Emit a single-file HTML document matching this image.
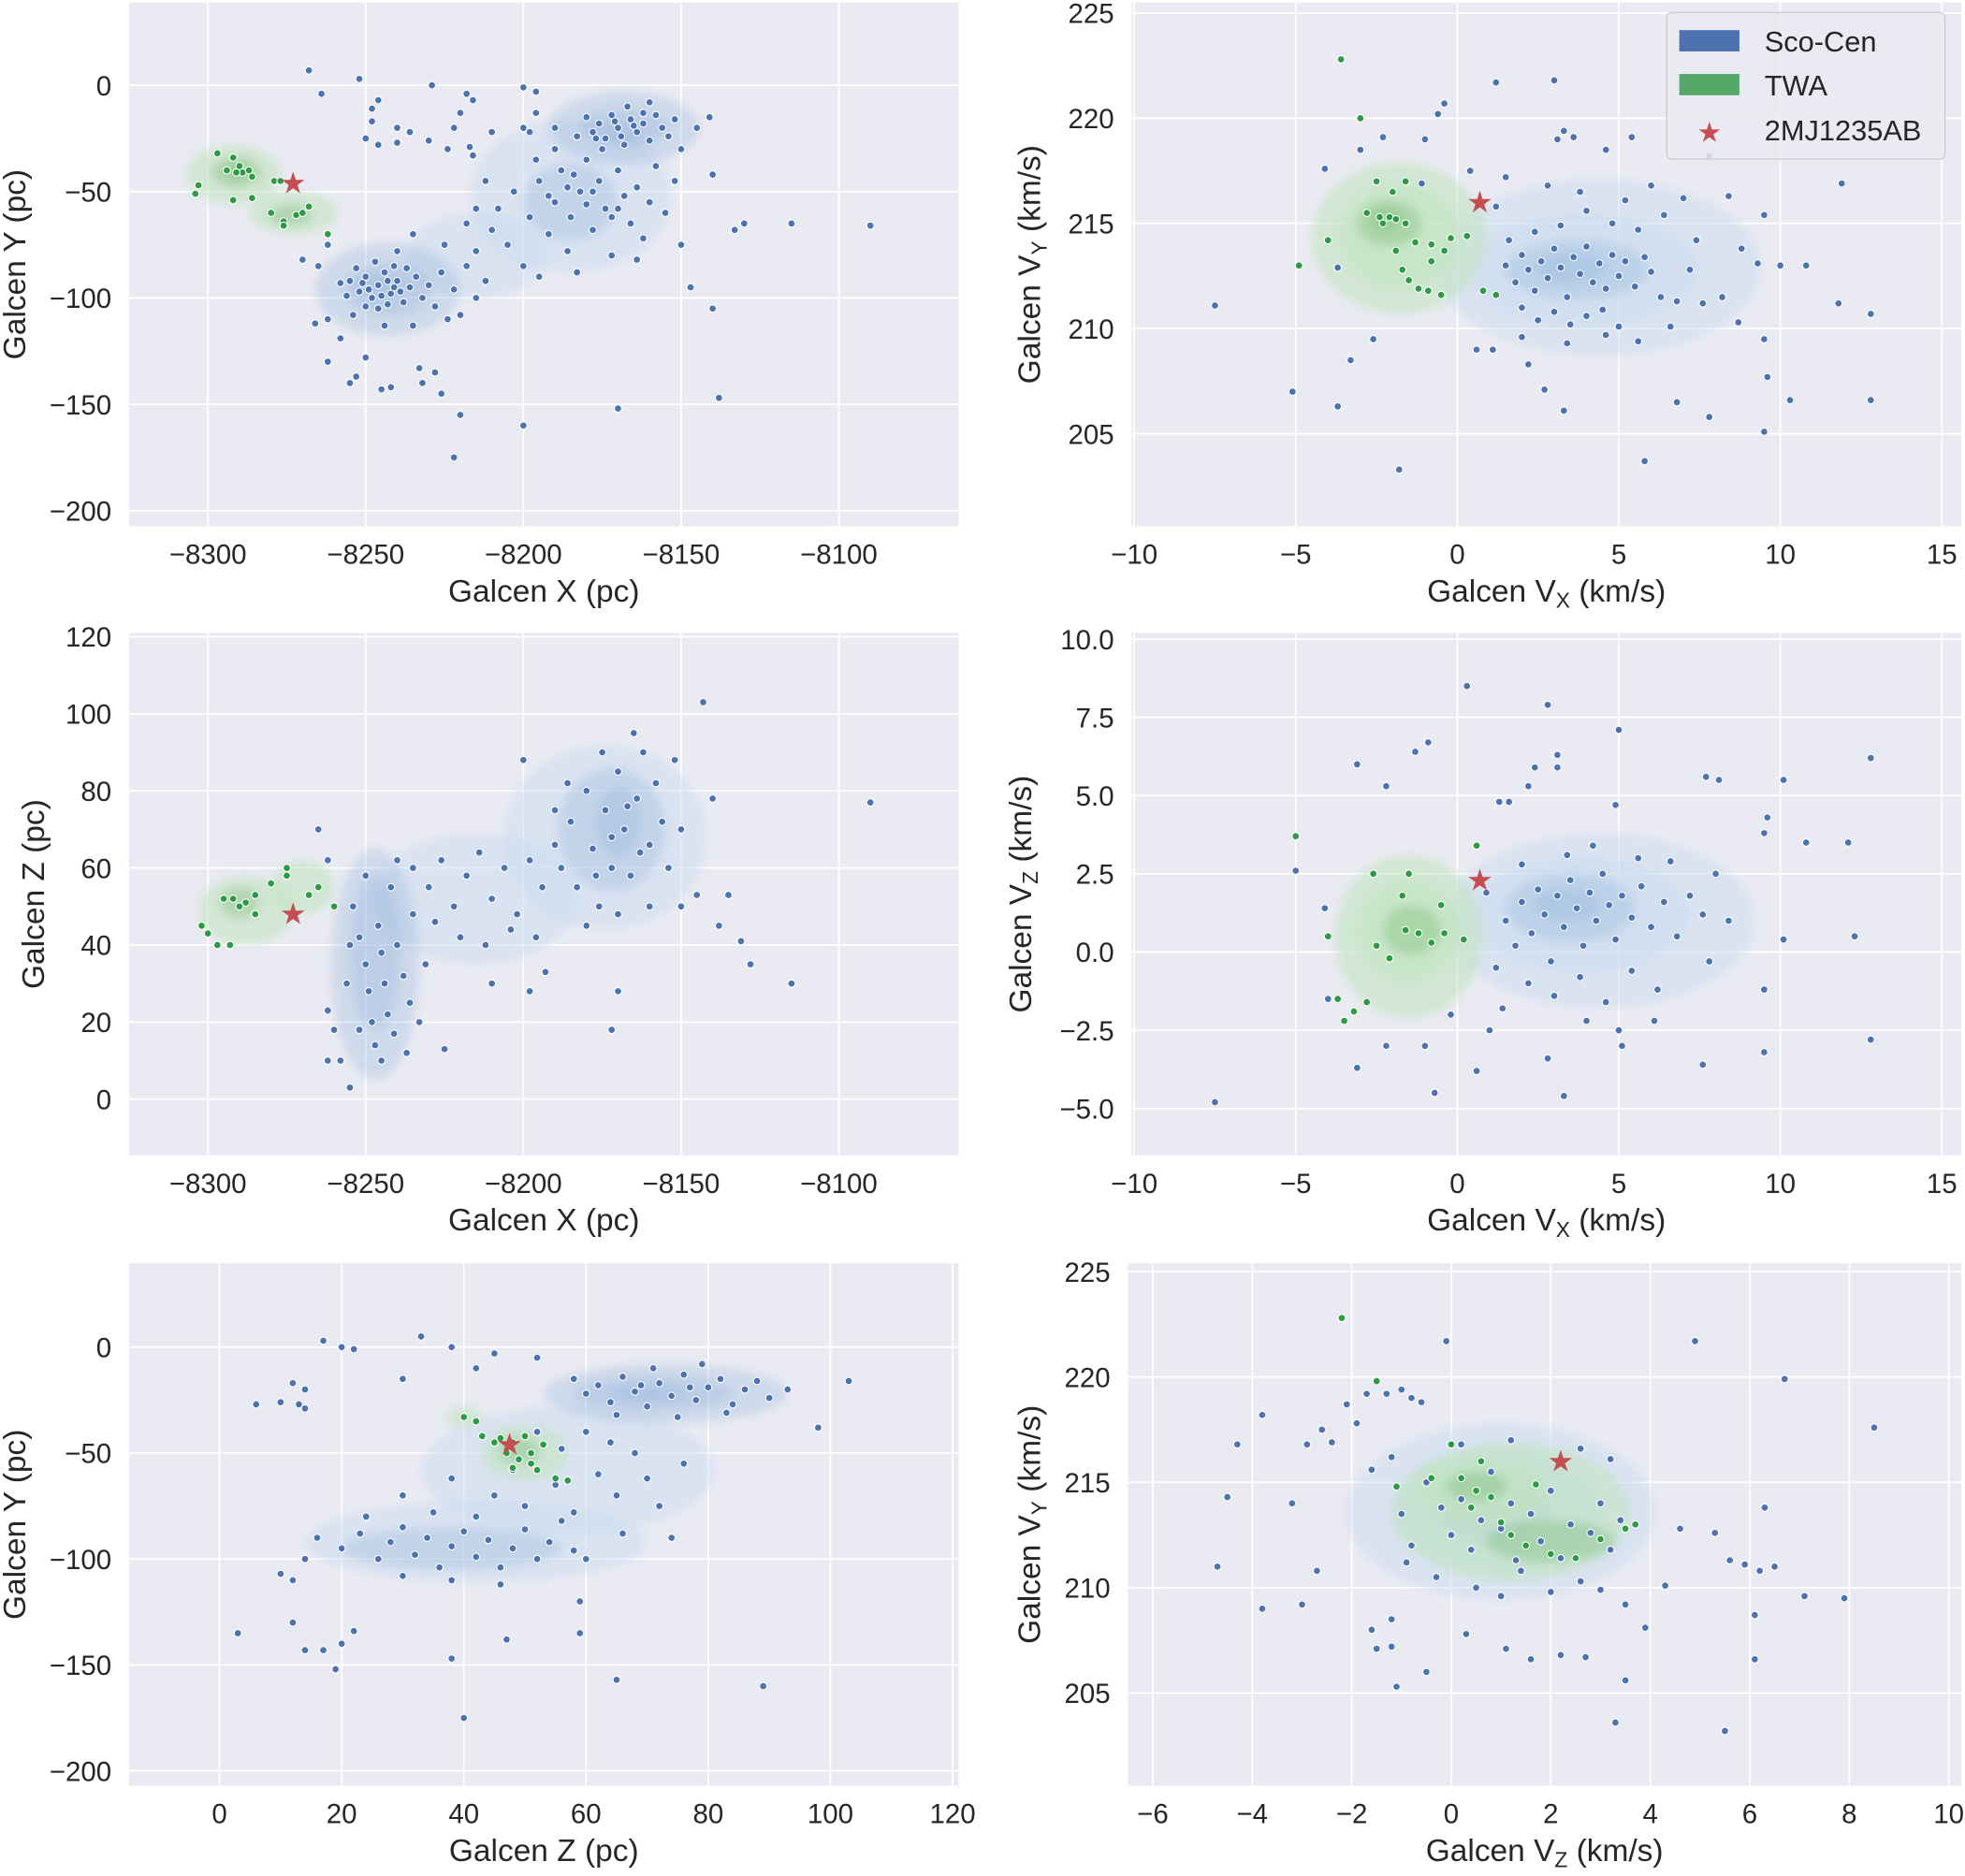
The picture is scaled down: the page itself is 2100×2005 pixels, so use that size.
<!DOCTYPE html>
<html><head><meta charset="utf-8"><style>
html,body{margin:0;padding:0;background:#fff}
svg{display:block;font-family:"Liberation Sans",Arial,sans-serif}
</style></head>
<body>
<svg id="fig" width="2100" height="2005" viewBox="0 0 1568 1497" xmlns="http://www.w3.org/2000/svg">
<defs><filter id="soft" x="-20%" y="-20%" width="140%" height="140%"><feGaussianBlur stdDeviation="3.5"/></filter></defs>
</svg>
<script>
// ---------- data: panel 1 (X vs Y) ----------
const p1Sco=[[-8268,7],[-8252,3],[-8264,-4],[-8246,-7],[-8248,-11],[-8248,-17],[-8240,-20],[-8236,-22],[-8240,-27],[-8250,-25],[-8246,-28],[-8229,0],[-8230,-26],[-8222,-20],[-8216,-7],[-8218,-4],[-8220,-13],[-8224,-30],[-8217,-29],[-8216,-33],[-8200,-1],[-8196,-3],[-8196,-13],[-8200,-20],[-8210,-22],[-8198,-22],[-8190,-20],
[-8255,-92],[-8252,-97],[-8250,-90],[-8248,-100],[-8246,-94],[-8244,-88],[-8242,-98],[-8240,-92],[-8238,-102],[-8236,-95],[-8234,-90],[-8232,-100],[-8250,-104],[-8246,-105],[-8241,-85],[-8237,-86],[-8253,-86],[-8256,-99],[-8243,-103],[-8239,-97],[-8247,-83],[-8230,-94],[-8228,-104],[-8226,-88],[-8222,-96],[-8220,-108],[-8215,-100],[-8212,-92],[-8218,-85],[-8224,-110],[-8235,-113],[-8244,-113],[-8254,-108],[-8258,-93],[-8240,-78],[-8235,-70],[-8225,-75],[-8215,-78],[-8249,-96],[-8245,-99],[-8243,-92],[-8251,-93],[-8241,-95],
[-8210,-68],[-8205,-75],[-8208,-58],[-8203,-50],[-8198,-62],[-8195,-45],[-8192,-70],[-8190,-55],[-8188,-40],[-8186,-78],[-8185,-62],[-8182,-50],[-8180,-35],[-8178,-68],[-8176,-45],[-8174,-58],[-8172,-80],[-8170,-40],[-8168,-52],[-8166,-65],[-8164,-48],[-8162,-72],[-8160,-55],[-8158,-38],[-8155,-60],[-8152,-45],[-8150,-75],[-8200,-85],[-8195,-90],[-8190,-30],[-8183,-88],[-8177,-25],[-8212,-45],[-8215,-58],[-8218,-65],[-8196,-35],[-8186,-48],[-8172,-62],[-8164,-82],[-8180,-56],[-8178,-50],[-8184,-42],[-8170,-58],[-8192,-52],
[-8180,-15],[-8178,-22],[-8176,-18],[-8174,-25],[-8172,-14],[-8170,-20],[-8168,-28],[-8166,-16],[-8164,-22],[-8162,-18],[-8160,-26],[-8158,-14],[-8156,-20],[-8154,-24],[-8175,-30],[-8167,-10],[-8183,-24],[-8152,-16],[-8150,-30],[-8160,-8],[-8145,-20],[-8141,-15],[-8171,-17],[-8165,-19],[-8169,-24],[-8162,-13],
[-8140,-42],[-8130,-65],[-8133,-68],[-8115,-65],[-8090,-66],[-8140,-105],[-8138,-147],[-8147,-95],[-8170,-152],[-8200,-160],[-8222,-175],[-8220,-155],[-8250,-128],[-8255,-140],[-8253,-137],[-8242,-142],[-8245,-143],[-8232,-140],[-8233,-133],[-8228,-135],[-8226,-145],[-8262,-110],[-8266,-112],[-8270,-82],[-8262,-75],[-8265,-85],[-8258,-119],[-8262,-130]];
const p1Twa=[[-8297,-32],[-8292,-34],[-8294,-40],[-8290,-38],[-8289,-41],[-8287,-40],[-8286,-43],[-8291,-41],[-8303,-47],[-8304,-51],[-8292,-54],[-8286,-53],[-8280,-60],[-8272,-61],[-8276,-64],[-8268,-57],[-8270,-60],[-8276,-66],[-8279,-45],[-8277,-45],[-8262,-70]];
const p1Star=[-8273,-46];
const p1ScoKde=[[-8215,-80,22,20],[-8185,-52,32,36],[-8168,-20,24,17],[-8243,-96,23,22],[-8243,-96,14,12],[-8168,-20,14,9],[-8185,-55,15,18],[-8245,-95,8,6],[-8168,-22,7,4]];
const p1TwaKde=[[-8292,-42,15,14],[-8273,-60,14,10],[-8291,-41,8,7],[-8274,-61,7,5],[-8291,-40,4,4]];
const p1Xticks=[-8300,-8250,-8200,-8150,-8100];
const p1Yticks=[0,-50,-100,-150,-200];

// ---------- panel 2 (VX vs VY) ----------
const p2Sco=[[-7.5,211.1],[-5.1,207],[-3.7,206.3],[-3.7,212.9],[-4.1,217.6],[-3,218.5],[-2.3,219.1],[-1,219],[-0.6,220.2],[-0.4,220.7],[1.2,221.7],[3,221.8],[3.3,219.4],[3.1,219],[3.6,219.1],[5.4,219.1],[4.6,218.5],[-3.3,208.5],[-2.6,209.5],[-1.8,203.3],[2.2,208.3],[2.7,207.1],[3.3,206.1],[5.8,203.7],[6.8,206.5],[7.8,205.8],[9.5,205.1],[9.6,207.7],[10.3,206.6],[12.8,206.6],[9.5,209.5],[10,213],[10.8,213],[11.8,211.2],[11.9,216.9],[12.8,210.7],[9.3,213.1],[9.5,215.4],[8.8,213.8],[8.7,210.3],[0.6,209],[1.1,209],[-1.1,216.9],[0.4,217.5],[1.5,217.2],[7.8,218.2],
[1.5,213],[1.8,212.2],[2,213.5],[2.2,212.8],[2.4,211.8],[2.6,213.2],[2.8,212.4],[3,213.8],[3.2,212.9],[3.4,211.5],[3.6,213.4],[3.8,212.6],[4,213.9],[4.2,212.2],[4.4,213.1],[4.6,211.9],[4.8,213.5],[5,212.5],[5.2,213.2],[5.5,212],[5.8,213.4],[6,212.7],[6.3,211.5],[2.5,210.4],[3,210.8],[3.5,210.2],[4,210.6],[4.5,210.9],[5,210.1],[2,211],[1.6,214.2],[2.4,214.6],[3.2,214.9],[4,215.6],[4.8,215],[5.6,214.7],[6.4,215.4],[7,216.2],[7.4,214.2],[7.2,212.8],[6.8,211.3],[7.6,211.2],[8.2,211.5],[8.4,216.3],[2.8,216.8],[3.8,216.5],[5.2,216.1],[6,216.8],[1.2,215.8],[2,209.6],[3.4,209.3],[4.6,209.7],[5.6,209.4],[6.6,210.1]];
const p2Twa=[[-3.6,222.8],[-3,220],[-2.5,217],[-2,216.5],[-1.6,217],[-2.8,215.5],[-2.4,215.3],[-2.1,215.3],[-1.9,215.2],[-2.3,215],[-1.6,215],[-1.3,214.1],[-0.8,214],[-0.4,213.7],[-0.8,213.2],[-1.9,213.7],[-1.7,212.8],[-1.5,212.3],[-1.2,211.9],[-0.9,211.8],[-0.5,211.6],[0.8,211.8],[1.2,211.6],[-4,214.2],[-4.9,213],[0.3,214.4],[-0.2,214.3]];
const p2Star=[0.7,216];
const p2ScoKde=[[4.4,212.9,5,4.2],[3.9,212.8,3.5,2.6],[3.7,212.8,2.2,1.4],[3.5,212.9,1.1,0.7]];
const p2TwaKde=[[-1.8,214.3,2.7,3.6],[-1.8,214.4,1.8,2.5],[-2.1,215,1,1.1],[-2.2,215.2,0.5,0.5]];
const p2Xticks=[-10,-5,0,5,10,15];
const p2Yticks=[225,220,215,210,205];

// ---------- panel 3 (X vs Z) ----------
const p3Sco=[[-8265,70],[-8262,62],[-8262,23],[-8260,18],[-8262,10],[-8258,10],[-8255,3],[-8225,13],[-8210,30],[-8200,88],[-8143,103],[-8140,78],[-8138,45],[-8135,53],[-8131,41],[-8128,35],[-8115,30],[-8090,77],[-8150,50],[-8145,53],[-8170,28],[-8172,18],[-8198,28],[-8193,33],
[-8254,50],[-8252,42],[-8250,35],[-8249,28],[-8248,20],[-8247,14],[-8246,45],[-8245,38],[-8244,30],[-8243,22],[-8242,55],[-8241,17],[-8240,40],[-8238,32],[-8237,12],[-8236,25],[-8235,48],[-8252,18],[-8250,58],[-8245,10],[-8240,62],[-8233,20],[-8231,35],[-8256,30],[-8255,40],
[-8235,60],[-8230,55],[-8226,62],[-8222,50],[-8218,58],[-8214,64],[-8210,52],[-8206,60],[-8202,48],[-8198,62],[-8194,55],[-8190,66],[-8220,42],[-8212,40],[-8204,44],[-8228,46],[-8196,42],
[-8188,60],[-8185,72],[-8183,55],[-8180,80],[-8178,65],[-8176,50],[-8174,75],[-8172,60],[-8170,85],[-8168,70],[-8166,58],[-8164,78],[-8162,90],[-8160,66],[-8158,82],[-8156,72],[-8154,60],[-8152,88],[-8175,90],[-8165,95],[-8180,45],[-8170,48],[-8160,50],[-8186,82],[-8150,70],[-8167,76],[-8172,68],[-8163,64],[-8177,58],[-8190,75]];
const p3Twa=[[-8302,45],[-8300,43],[-8297,40],[-8293,40],[-8295,52],[-8290,50],[-8288,51],[-8292,52],[-8285,53],[-8280,56],[-8275,58],[-8275,60],[-8265,55],[-8260,50],[-8268,53],[-8285,48]];
const p3Star=[-8273,48];
const p3ScoKde=[[-8215,52,32,17],[-8174,68,32,24],[-8247,35,14,30],[-8247,38,8,20],[-8172,70,17,16],[-8170,72,7,9]];
const p3TwaKde=[[-8288,49,15,9],[-8270,55,10,7],[-8290,51,6,4]];
const p3Xticks=[-8300,-8250,-8200,-8150,-8100];
const p3Yticks=[120,100,80,60,40,20,0];

// ---------- panel 4 (VX vs VZ) ----------
const p4Sco=[[-7.5,-4.8],[-5,2.6],[-4.1,1.4],[-4,-1.5],[-3.1,-3.7],[-2.2,-3],[-3.1,6],[-2.2,5.3],[-1.3,6.4],[-0.9,6.7],[0.3,8.5],[1.3,4.8],[1.6,4.8],[2.8,7.9],[2.2,5.3],[2.4,5.9],[3.1,6.3],[3.1,5.9],[5,7.1],[4.9,4.7],[7.7,5.6],[8.1,5.5],[9.6,4.3],[9.5,3.8],[10.1,5.5],[10.8,3.5],[12.1,3.5],[12.8,6.2],[12.3,0.5],[12.8,-2.8],[10.1,0.4],[9.5,-1.2],[9.5,-3.2],[7.6,-3.6],[3.3,-4.6],[2.8,-3.4],[1,-2.5],[-0.2,-2],[-1,-3],[-0.7,-4.5],[0.6,-3.8],[5.1,-3],[6.1,-2.2],
[1.5,1],[1.8,0.2],[2,1.6],[2.3,0.6],[2.5,2],[2.7,1.2],[2.9,-0.3],[3.1,1.8],[3.3,0.8],[3.5,2.3],[3.7,1.4],[3.9,0.2],[4.1,1.9],[4.3,1],[4.5,2.5],[4.7,1.5],[4.9,0.4],[5.1,1.8],[5.4,1.1],[5.7,2.1],[6,0.8],[6.4,1.6],[6.8,0.5],[7.2,1.8],[7.6,1.2],[8,2.5],[2.2,-1],[3,-1.4],[3.8,-0.8],[4.6,-1.6],[5.4,-0.6],[6.2,-1.2],[1.2,-0.5],[2,2.8],[3.4,3.1],[4.2,3.4],[5.6,3],[6.6,2.9],[7.8,-0.3],[8.4,1],[0.9,1.9],[1.4,-1.8],[4,-2.2],[5,-2.5]];
const p4Twa=[[-5,3.7],[-4,0.5],[-3.7,-1.5],[-3.5,-2.2],[-3.2,-1.9],[-2.8,-1.6],[-2.5,0.2],[-2.1,-0.2],[-1.6,0.7],[-1.2,0.6],[-1.7,1.8],[-1.5,2.5],[-0.5,1.5],[-0.4,0.6],[0.2,0.4],[0.6,3.4],[-0.8,0.3],[-2.6,2.5]];
const p4Star=[0.7,2.3];
const p4ScoKde=[[4.4,1,4.8,2.8],[3.8,1.2,3.3,1.8],[3.5,1.4,2,1.1],[3.4,1.5,1,0.5]];
const p4TwaKde=[[-1.5,0.5,2.3,2.6],[-1.5,0.7,1.6,1.6],[-1.4,0.7,0.9,0.8]];
const p4Xticks=[-10,-5,0,5,10,15];
const p4Yticks=[10,7.5,5,2.5,0,-2.5,-5];

// ---------- panel 5 (Z vs Y) ----------
const p5Sco=[[17,3],[20,0],[22,-1],[12,-17],[14,-20],[13,-27],[14,-29],[10,-26],[6,-27],[3,-135],[10,-107],[12,-110],[12,-130],[14,-143],[17,-143],[20,-140],[19,-152],[22,-134],[38,-147],[40,-175],[47,-138],[59,-120],[59,-135],[65,-157],[89,-160],[98,-38],[103,-16],[33,5],[38,0],[42,-10],[45,-3],[52,-5],[30,-15],
[58,-15],[60,-22],[62,-18],[64,-26],[66,-14],[68,-21],[70,-28],[72,-17],[74,-23],[76,-13],[78,-25],[80,-19],[82,-15],[84,-27],[86,-20],[88,-16],[90,-24],[71,-10],[79,-8],[65,-32],[75,-33],[83,-31],[93,-20],[69,-18],[77,-19],
[20,-95],[23,-88],[26,-100],[28,-92],[30,-85],[32,-98],[34,-90],[36,-104],[38,-94],[40,-87],[42,-99],[44,-91],[46,-104],[48,-95],[50,-86],[52,-100],[54,-92],[56,-82],[58,-96],[24,-80],[30,-108],[38,-110],[46,-112],[35,-78],[16,-90],[14,-100],
[45,-70],[50,-75],[55,-65],[58,-78],[62,-60],[65,-70],[68,-50],[70,-62],[52,-40],[56,-48],[60,-40],[64,-45],[48,-58],[72,-75],[76,-55],[38,-62],[42,-80],[30,-70],[60,-100],[66,-88],[74,-90]];
const p5Twa=[[40,-33],[42,-35],[43,-42],[45,-45],[47,-50],[49,-53],[51,-55],[52,-58],[55,-62],[57,-63],[46,-43],[50,-42],[53,-46],[48,-57],[51,-50],[48,-45]];
const p5Star=[47.5,-46];
const p5ScoKde=[[42,-92,28,19],[57,-58,24,30],[73,-22,20,14],[38,-95,18,10],[71,-22,13,8],[70,-22,6,4]];
const p5TwaKde=[[50,-50,7,13],[40,-33,3,5],[49,-49,3.5,6]];
const p5Xticks=[0,20,40,60,80,100,120];
const p5Yticks=[0,-50,-100,-150,-200];

// ---------- panel 6 (VZ vs VY) ----------
const p6Sco=[[-4.7,211],[-4.5,214.3],[-4.3,216.8],[-3.8,218.2],[-3.8,209],[-3,209.2],[-2.7,210.8],[-3.2,214],[-2.9,216.8],[-2.4,216.9],[-2.6,217.5],[-2.1,218.7],[-1.9,217.8],[-1.7,219.2],[-1.6,215.6],[-1,219.4],[-1.3,219.2],[-0.8,219],[-0.6,218.8],[-0.1,221.7],[-1,213.5],[-1.2,207.2],[-1.5,207.1],[-1.6,208],[-1.2,208.5],[-1.1,205.3],[-0.5,206],[0.3,207.8],[1.1,207.1],[1.6,206.6],[2.2,206.8],[2.7,206.7],[3.3,203.6],[3.5,205.6],[3.9,208.1],[3.5,209.2],[4.3,210.1],[5.5,203.2],[6.1,206.6],[4.6,212.8],[5.3,212.6],[5.6,211.3],[5.9,211.1],[6.3,213.8],[6.2,210.8],[6.5,211],[6.7,219.9],[6.1,208.7],[7.1,209.6],[7.9,209.5],[8.5,217.6],[4.9,221.7],[1.3,211.3],
[-0.5,215],[-0.2,213.8],[0,212.5],[0.2,214.2],[0.4,211.8],[0.6,213.2],[0.8,215.5],[1,212.8],[1.2,214],[1.4,210.8],[1.6,213.5],[1.8,212.2],[2,214.6],[2.2,211.4],[2.4,213],[2.6,210.3],[2.8,212.6],[3,214],[3.2,211.8],[3.4,213.2],[-0.8,212],[-0.3,210.5],[0.5,210],[1,209.6],[2,209.8],[3,209.9],[0.2,216.8],[1.2,217],[2.6,216.6],[3.2,216.1],[-1.2,216.2],[-0.9,211.2]];
const p6Twa=[[-2.2,222.8],[-1.5,219.8],[-1.1,214.8],[0,216.8],[0.2,215.2],[0.5,214.6],[0.8,214.3],[0.4,213.8],[1,213.1],[1.2,212.5],[1.5,212],[2,211.6],[2.5,211.4],[3,212.3],[3.5,212.8],[3.7,213],[1.7,214.9],[0.6,216],[-0.4,215.2]];
const p6Star=[2.2,216];
const p6ScoKde=[[1,213.6,3.1,4.2],[0.9,213.7,2.1,2.9],[0.8,213.9,1.2,1.7]];
const p6TwaKde=[[1.2,213.6,2.4,3.3],[0.6,214.6,1.3,1.5],[2,212.2,1.3,1],[0.5,214.8,0.6,0.7]];
const p6Xticks=[-6,-4,-2,0,2,4,6,8,10];
const p6Yticks=[225,220,215,210,205];

// ---------- rendering ----------
const NS='http://www.w3.org/2000/svg';
const svg=document.getElementById('fig');
function mk(tag,attrs,parent){const e=document.createElementNS(NS,tag);for(const k in attrs)e.setAttribute(k,attrs[k]);(parent||svg).appendChild(e);return e;}

function panel(cfg,sco,twa,star,scoKde,twaKde,xticks,yticks){
  const g=mk('g',{});
  
  
  const [L,T,R,B]=cfg.box;
  const sx=v=>L+(v-cfg.xd[0])/(cfg.xd[1]-cfg.xd[0])*(R-L);
  const sy=v=>B-(v-cfg.yd[0])/(cfg.yd[1]-cfg.yd[0])*(B-T);
  const bg=mk('rect',{x:L,y:T,width:R-L,height:B-T,fill:'#eaeaf2'},g);
  
  
  const cid='clip'+cfg.name;
  const cp=mk('clipPath',{id:cid},g);mk('rect',{x:L,y:T,width:R-L,height:B-T},cp);
  xticks.forEach(t=>{const x=sx(t);
    const l=mk('line',{x1:x,x2:x,y1:T,y2:B,stroke:'#fff','stroke-width':1.3},g);
    
    
    const tx=mk('text',{x:x,y:B+30,'text-anchor':'middle','font-size':22,fill:'#262626'},g);
    tx.textContent=String(t).replace('-','\u2212');
    
    });
  yticks.forEach(t=>{const y=sy(t);
    const l=mk('line',{x1:L,x2:R,y1:y,y2:y,stroke:'#fff','stroke-width':1.3},g);
    
    
    const tx=mk('text',{x:L-14,y:y+8,'text-anchor':'end','font-size':22,fill:'#262626'},g);
    tx.textContent=(cfg.dec?t.toFixed(1):String(t)).replace('-','\u2212');
    
    });
  const pg=mk('g',{'clip-path':'url(#'+cid+')'},g);
  const kg=mk('g',{filter:'url(#soft)'},pg);
  const kx=(R-L)/(cfg.xd[1]-cfg.xd[0]), ky=(B-T)/(cfg.yd[1]-cfg.yd[0]);
  scoKde.forEach((k,i)=>{const e=mk('ellipse',{cx:sx(k[0]),cy:sy(k[1]),rx:k[2]*kx,ry:k[3]*ky,fill:i<2?'#c9dcef':'#8fb3d9','fill-opacity':i<2?0.5:0.3},kg);
    
    });
  twaKde.forEach((k,i)=>{const e=mk('ellipse',{cx:sx(k[0]),cy:sy(k[1]),rx:k[2]*kx,ry:k[3]*ky,fill:i<2?'#c2e5bf':'#7fbf7b','fill-opacity':i<2?0.6:0.4},kg);
    
    });
  sco.forEach(p=>{const c=mk('circle',{cx:sx(p[0]),cy:sy(p[1]),r:2.9,fill:'#4c72b0',stroke:'#fff','stroke-width':0.8},pg);
    
    });
  twa.forEach(p=>{const c=mk('circle',{cx:sx(p[0]),cy:sy(p[1]),r:2.9,fill:'#2e9a45',stroke:'#fff','stroke-width':0.8},pg);
    
    });
  const s=mk('text',{x:sx(star[0]),y:sy(star[1])+8,'text-anchor':'middle','font-size':24,fill:'#c44e52'},pg);
  s.textContent='\u2605';
  
  
  const xl=mk('text',{x:(L+R)/2,y:B+60,'text-anchor':'middle','font-size':25,fill:'#262626'},g);
  xl.innerHTML=cfg.xl;
  
  
  const yx=cfg.ylx, yy=(T+B)/2;
  const yl=mk('text',{x:yx,y:yy,'text-anchor':'middle','font-size':25,fill:'#262626',transform:'rotate(-90 '+yx+' '+yy+')'},g);
  yl.innerHTML=cfg.yl;
  
  
}
const sub=s=>'<tspan font-size="17" dy="5">'+s+'</tspan><tspan dy="-5"> </tspan>';
panel({name:'panel-x-y',box:[103,2,765,420],xd:[-8325,-8062],yd:[-207.4,38.9],xl:'Galcen X (pc)',yl:'Galcen Y (pc)',ylx:20},p1Sco,p1Twa,p1Star,p1ScoKde,p1TwaKde,p1Xticks,p1Yticks);
panel({name:'panel-vx-vy',box:[903,2,1565,420],xd:[-10.08,15.6],yd:[200.6,225.5],xl:'Galcen V'+sub('X')+'(km/s)',yl:'Galcen V'+sub('Y')+'(km/s)',ylx:830},p2Sco,p2Twa,p2Star,p2ScoKde,p2TwaKde,p2Xticks,p2Yticks);
panel({name:'panel-x-z',box:[103,505,765,922],xd:[-8325,-8062],yd:[-14.6,121],xl:'Galcen X (pc)',yl:'Galcen Z (pc)',ylx:35},p3Sco,p3Twa,p3Star,p3ScoKde,p3TwaKde,p3Xticks,p3Yticks);
panel({name:'panel-vx-vz',box:[903,505,1565,922],xd:[-10.08,15.6],yd:[-6.5,10.2],dec:true,xl:'Galcen V'+sub('X')+'(km/s)',yl:'Galcen V'+sub('Z')+'(km/s)',ylx:823},p4Sco,p4Twa,p4Star,p4ScoKde,p4TwaKde,p4Xticks,p4Yticks);
panel({name:'panel-z-y',box:[103,1008,765,1425],xd:[-14.8,121],yd:[-207,39.6],xl:'Galcen Z (pc)',yl:'Galcen Y (pc)',ylx:20},p5Sco,p5Twa,p5Star,p5ScoKde,p5TwaKde,p5Xticks,p5Yticks);
panel({name:'panel-vz-vy',box:[900,1008,1565,1425],xd:[-6.5,10.25],yd:[200.6,225.4],xl:'Galcen V'+sub('Z')+'(km/s)',yl:'Galcen V'+sub('Y')+'(km/s)',ylx:830},p6Sco,p6Twa,p6Star,p6ScoKde,p6TwaKde,p6Xticks,p6Yticks);

// legend
const lg=mk('g',{});


mk('rect',{x:1330,y:10,width:222,height:117,rx:4,fill:'#eaeaf2','fill-opacity':0.85,stroke:'#cccccc'},lg);
const items=[['Sco-Cen','#4c72b0','patch',33],['TWA','#55a868','patch',68],['2MJ1235AB','#c44e52','star',104]];
items.forEach(it=>{
  const e=mk('g',{},lg);
  
  
  if(it[2]==='patch'){mk('rect',{x:1340,y:it[3]-9,width:48,height:17,fill:it[1]},e);}
  else{const s=mk('text',{x:1364,y:it[3]+9,'text-anchor':'middle','font-size':22,fill:it[1]},e);s.textContent='\u2605';}
  const t=mk('text',{x:1408,y:it[3]+8,'font-size':23,fill:'#262626'},e);t.textContent=it[0];
});
</script>
</body></html>
